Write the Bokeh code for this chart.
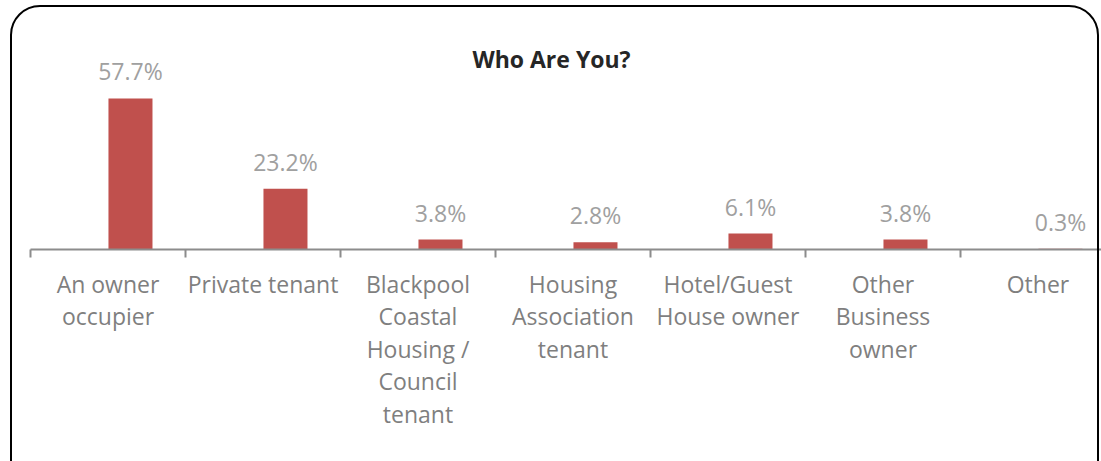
from bokeh.plotting import figure
from bokeh.models import (Range1d, FixedTicker, LinearAxis, ColumnDataSource,
                          LabelSet, Label, InlineStyleSheet)
from bokeh.core.properties import value
from bokeh.transform import dodge
from bokeh.embed import file_html
from bokeh.resources import INLINE

categories = ["An owner\noccupier", "Private tenant",
              "Blackpool\nCoastal\nHousing /\nCouncil\ntenant",
              "Housing\nAssociation\ntenant", "Hotel/Guest\nHouse owner",
              "Other\nBusiness\nowner", "Other"]
values = [57.7, 23.2, 3.8, 2.8, 6.1, 3.8, 0.3]
value_labels = ["57.7%", "23.2%", "3.8%", "2.8%", "6.1%", "3.8%", "0.3%"]
title_text = "Who Are You?"

positions = list(range(len(categories)))
src = ColumnDataSource(dict(x=positions, v=values, lab=value_labels))

FONT = "Open Sans"
FW, FH = 1071, 241
STEP = 155.0
PXU = 2.617

p = figure(frame_width=FW, frame_height=FH,
           x_range=Range1d(-0.5, -0.5 + FW / STEP),
           y_range=Range1d(0, FH / PXU),
           output_backend="svg", toolbar_location=None,
           x_axis_type=None, y_axis_type=None,
           min_border_left=30, min_border_right=0, min_border_top=8,
           min_border_bottom=10)
p.outline_line_color = None
p.background_fill_color = "white"
p.border_fill_color = "white"

p.vbar(x=dodge("x", 0.145, range=p.x_range), top="v", width=0.284, bottom=0,
       source=src, fill_color="#C0504D", line_color=None)

xaxis = LinearAxis(
    ticker=FixedTicker(ticks=positions, minor_ticks=[i - 0.5 for i in positions]),
    major_label_overrides={i: c for i, c in zip(positions, categories)},
    major_tick_out=0, major_tick_in=0, major_tick_line_color=None,
    minor_tick_out=8, minor_tick_in=0, minor_tick_line_color="#8C8C8C",
    minor_tick_line_width=2,
    axis_line_color="#8C8C8C", axis_line_width=2,
    major_label_text_font=FONT, major_label_text_font_size="23px",
    major_label_text_color="#7F7F7F", major_label_text_line_height=1.02,
    major_label_standoff=10)
p.add_layout(xaxis, "below")

labels = LabelSet(x=dodge("x", 0.145, range=p.x_range), y="v", text="lab",
                  source=src, y_offset=18, text_align="center",
                  text_baseline="alphabetic", text_font=value(FONT),
                  text_font_size=value("23px"), text_color=value("#A0A0A0"))
p.add_layout(labels)

title = Label(x=-0.5 + 521 / STEP, y=(FH - 50) / PXU, text=title_text,
              text_align="center", text_baseline="middle", text_font=FONT,
              text_font_size="23px", text_font_style="bold", text_color="#262626")
p.add_layout(title)

p.stylesheets = [InlineStyleSheet(css=""":host { position: relative; }
:host::after { content: ""; position: absolute; left: 10px; top: 5px;
  width: 1089px; height: 500px; border: 2px solid #000; border-radius: 30px;
  pointer-events: none; box-sizing: border-box; }""")]

open("out.html", "w").write(file_html(p, INLINE))
